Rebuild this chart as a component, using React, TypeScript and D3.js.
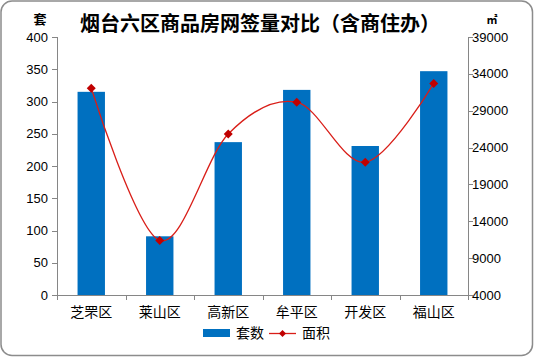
import React from "react";
import * as d3 from "d3";

const categories = ["芝罘区", "莱山区", "高新区", "牟平区", "开发区", "福山区"];
const countValues = [315, 91, 237, 318, 231, 347];
const areaValues = [32050, 11400, 25850, 30150, 22000, 32700];
const leftTicks = [0, 50, 100, 150, 200, 250, 300, 350, 400];
const rightTicks = [4000, 9000, 14000, 19000, 24000, 29000, 34000, 39000];
const title = "烟台六区商品房网签量对比（含商住办）";
const leftUnit = "套";
const rightUnit = "㎡";
const legendLabels = ["套数", "面积"];

const W = 534;
const H = 357;
const FONT = "'Liberation Sans', Arial, 'Noto Sans CJK SC', sans-serif";

export default function App() {
  const left = 57;
  const right = 468;
  const top = 37;
  const bottom = 295;

  const x = d3.scaleBand<string>().domain(categories).range([left, right]).paddingInner(0.6).paddingOuter(0.3);
  const xb = d3.scaleBand<string>().domain(categories).range([left, right]);
  const yL = d3.scaleLinear().domain([0, 400]).range([bottom, top]);
  const yR = d3.scaleLinear().domain([4000, 39000]).range([bottom, top]);

  const pts: [number, number][] = categories.map((c, i) => [
    (xb(c) as number) + xb.bandwidth() / 2,
    yR(areaValues[i]),
  ]);
  const line = d3.line().curve(d3.curveCatmullRom.alpha(0))(pts) || "";

  const diamond = (cx: number, cy: number, r: number) =>
    `M${cx},${cy - r}L${cx + r},${cy}L${cx},${cy + r}L${cx - r},${cy}Z`;

  const axisColor = "#868686";
  const boundaries = categories.map((c) => xb(c) as number).concat([right]);

  return (
    <div style={{ position: "fixed", left: 0, top: 0 }}>
      <svg width={W} height={H} style={{ display: "block", fontFamily: FONT }}>
        <rect x={0} y={0} width={W} height={H} fill="#fff" />
        <rect x={1} y={1} width={W - 2.5} height={H - 2.5} rx={11} ry={11} fill="#fff" stroke="#8c8c8c" strokeWidth={1.5} />

        <text x={260} y={31} textAnchor="middle" fontSize={20} fontWeight="bold" fill="#000" fontFamily="'Noto Sans CJK SC', sans-serif">
          {title}
        </text>
        <text x={40} y={24} textAnchor="middle" fontSize={13} fontWeight="bold" fill="#000" fontFamily="'Noto Sans CJK SC', sans-serif">
          {leftUnit}
        </text>
        <text x={492} y={24} textAnchor="middle" fontSize={11} fontWeight="bold" fill="#000">
          {rightUnit}
        </text>

        {/* bars */}
        {categories.map((c, i) => (
          <rect key={c} x={x(c)} y={yL(countValues[i])} width={x.bandwidth()} height={bottom - yL(countValues[i])} fill="#0070C0" />
        ))}

        {/* left axis */}
        <line x1={left + 0.5} x2={left + 0.5} y1={top} y2={bottom} stroke={axisColor} />
        {leftTicks.map((t) => (
          <g key={t}>
            <line x1={left - 5} x2={left + 0.5} y1={Math.round(yL(t)) + 0.5} y2={Math.round(yL(t)) + 0.5} stroke={axisColor} />
            <text x={left - 9} y={yL(t) + 4.5} textAnchor="end" fontSize={13} fill="#000">
              {t}
            </text>
          </g>
        ))}

        {/* right axis */}
        <line x1={right + 0.5} x2={right + 0.5} y1={top} y2={bottom} stroke={axisColor} />
        {rightTicks.map((t) => (
          <g key={t}>
            <line x1={right + 0.5} x2={right + 5} y1={Math.round(yR(t)) + 0.5} y2={Math.round(yR(t)) + 0.5} stroke={axisColor} />
            <text x={right + 4} y={yR(t) + 4.5} textAnchor="start" fontSize={13} fill="#000">
              {t}
            </text>
          </g>
        ))}

        {/* bottom axis */}
        <line x1={left} x2={right + 5} y1={bottom + 0.5} y2={bottom + 0.5} stroke={axisColor} />
        {boundaries.map((b, i) => (
          <line key={i} x1={Math.round(b) + 0.5} x2={Math.round(b) + 0.5} y1={bottom} y2={bottom + 5} stroke={axisColor} />
        ))}
        {categories.map((c) => (
          <text key={c} x={(xb(c) as number) + xb.bandwidth() / 2} y={317} textAnchor="middle" fontSize={14} fill="#000" fontFamily="'Noto Sans CJK SC', sans-serif">
            {c}
          </text>
        ))}

        {/* line */}
        <path d={line} fill="none" stroke="#D91E18" strokeWidth={1.3} />
        {pts.map(([px, py], i) => (
          <path key={i} d={diamond(px, py, 4.5)} fill="#C00000" />
        ))}

        {/* legend */}
        <rect x={203} y={329} width={27} height={8} fill="#0070C0" />
        <text x={236} y={338} fontSize={14} fill="#000" fontFamily="'Noto Sans CJK SC', sans-serif">
          {legendLabels[0]}
        </text>
        <line x1={269} x2={296} y1={333.5} y2={333.5} stroke="#D91E18" strokeWidth={1.3} />
        <path d={diamond(282.5, 333.5, 3.5)} fill="#C00000" />
        <text x={302} y={338} fontSize={14} fill="#000" fontFamily="'Noto Sans CJK SC', sans-serif">
          {legendLabels[1]}
        </text>
      </svg>
    </div>
  );
}
